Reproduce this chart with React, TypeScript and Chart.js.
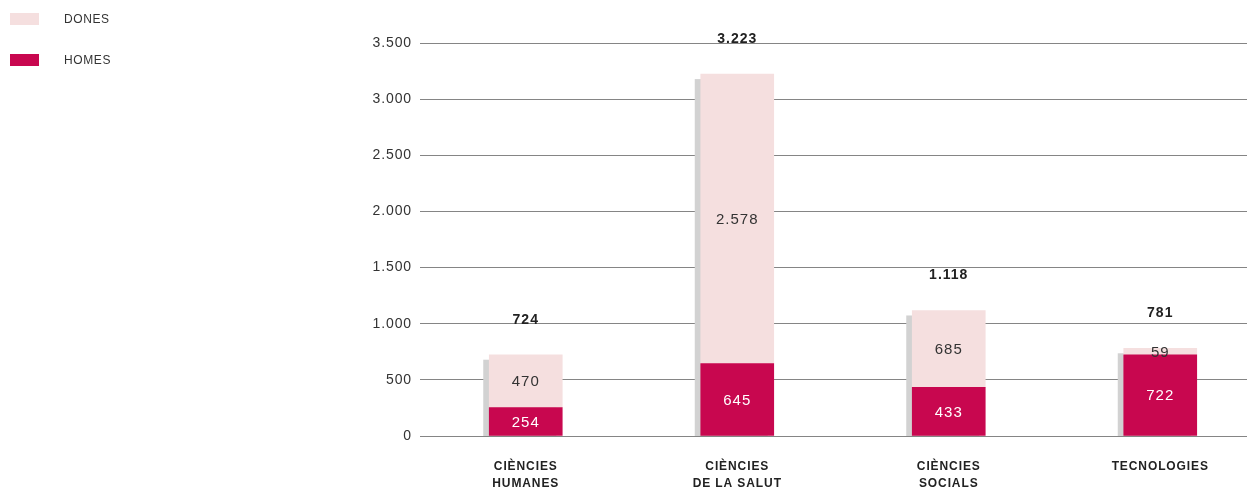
import React, { useEffect, useRef } from "react";
import { Chart, registerables } from "chart.js";

Chart.register(...registerables);

const categories: string[][] = [
  ["CIÈNCIES", "HUMANES"],
  ["CIÈNCIES", "DE LA SALUT"],
  ["CIÈNCIES", "SOCIALS"],
  ["TECNOLOGIES"],
];
const homes = [254, 645, 433, 722];
const dones = [470, 2578, 685, 59];
const totals = [724, 3223, 1118, 781];
const seriesNames = ["HOMES", "DONES"];
const yMax = 3500;
const yStep = 500;

const HOMES_COLOR = "#c8074f";
const DONES_COLOR = "#f5dfdf";
const SHADOW_COLOR = "#d2d2d2";
const FONT = "'Liberation Sans', Arial, Helvetica, sans-serif";

const fmt = (n: number) => String(n).replace(/\B(?=(\d{3})+(?!\d))/g, ".");

const decorPlugin = {
  id: "decor",
  beforeDraw(chart: any) {
    chart.ctx.letterSpacing = "0.9px";
  },
  beforeDatasetsDraw(chart: any) {
    const ctx = chart.ctx;
    const yScale = chart.scales.y;
    const base = yScale.getPixelForValue(0);
    const topMeta = chart.getDatasetMeta(1);
    ctx.save();
    ctx.fillStyle = SHADOW_COLOR;
    topMeta.data.forEach((el: any) => {
      const w = el.width;
      const top = el.y + 5;
      ctx.fillRect(el.x - w / 2 - 6, top, w, base - top);
    });
    ctx.restore();
  },
  afterDatasetsDraw(chart: any) {
    const ctx = chart.ctx;
    ctx.save();
    ctx.letterSpacing = "1px";
    ctx.textAlign = "center";
    ctx.textBaseline = "middle";
    chart.data.datasets.forEach((ds: any, di: number) => {
      const meta = chart.getDatasetMeta(di);
      meta.data.forEach((el: any, i: number) => {
        const v = ds.data[i];
        const cy = (el.y + el.base) / 2;
        ctx.font = `15px ${FONT}`;
        ctx.fillStyle = di === 0 ? "#ffffff" : "#333333";
        ctx.fillText(fmt(v), el.x, cy + 1);
      });
    });
    const topMeta = chart.getDatasetMeta(1);
    ctx.font = `bold 14px ${FONT}`;
    ctx.fillStyle = "#222222";
    topMeta.data.forEach((el: any, i: number) => {
      ctx.fillText(fmt(totals[i]), el.x, el.y - 35);
    });
    ctx.restore();
  },
  afterDraw(chart: any) {
    const ctx = chart.ctx;
    ctx.save();
    ctx.letterSpacing = "0.6px";
    const items = [
      { label: seriesNames[1], color: DONES_COLOR },
      { label: seriesNames[0], color: HOMES_COLOR },
    ];
    items.forEach((it, i) => {
      const y = 13 + i * 41;
      ctx.fillStyle = it.color;
      ctx.fillRect(10, y, 29, 12);
      ctx.font = `12px ${FONT}`;
      ctx.fillStyle = "#333333";
      ctx.textAlign = "left";
      ctx.textBaseline = "middle";
      ctx.fillText(it.label, 64, y + 6.5);
    });
    ctx.restore();
  },
};

export default function App() {
  const ref = useRef<HTMLCanvasElement | null>(null);

  useEffect(() => {
    document.body.style.margin = "0";
    const canvas = ref.current;
    if (!canvas) return;
    const chart = new Chart(canvas, {
      type: "bar",
      data: {
        labels: categories,
        datasets: [
          {
            label: seriesNames[0],
            data: homes,
            backgroundColor: HOMES_COLOR,
            barThickness: 73,
          },
          {
            label: seriesNames[1],
            data: dones,
            backgroundColor: DONES_COLOR,
            barThickness: 73,
          },
        ],
      },
      options: {
        responsive: false,
        animation: false,
        layout: { padding: { left: 0, right: 0, top: 43, bottom: 0 } },
        plugins: {
          legend: { display: false },
          tooltip: { enabled: false },
        },
        scales: {
          x: {
            stacked: true,
            grid: { display: false },
            border: { display: false },
            ticks: {
              color: "#222222",
              font: { family: FONT, size: 12, weight: "bold", lineHeight: 1.42 },
              padding: 14,
              maxRotation: 0,
              autoSkip: false,
            },
            afterFit: (scale: any) => {
              scale.height = 54;
            },
          },
          y: {
            stacked: true,
            min: 0,
            max: yMax,
            border: { display: false },
            grid: {
              color: "#858585",
              lineWidth: 1,
              drawTicks: false,
            },
            ticks: {
              stepSize: yStep,
              color: "#333333",
              font: { family: FONT, size: 14 },
              padding: 8,
              callback: (v: any) => fmt(Number(v)),
            },
            afterFit: (scale: any) => {
              scale.width = 420;
            },
          },
        },
      },
      plugins: [decorPlugin],
    });
    return () => chart.destroy();
  }, []);

  return (
    <div style={{ width: 1247, height: 490, overflow: "hidden", position: "relative", background: "#fff" }}>
      <canvas ref={ref} width={1266} height={490} style={{ width: 1266, height: 490, display: "block" }} />
    </div>
  );
}
